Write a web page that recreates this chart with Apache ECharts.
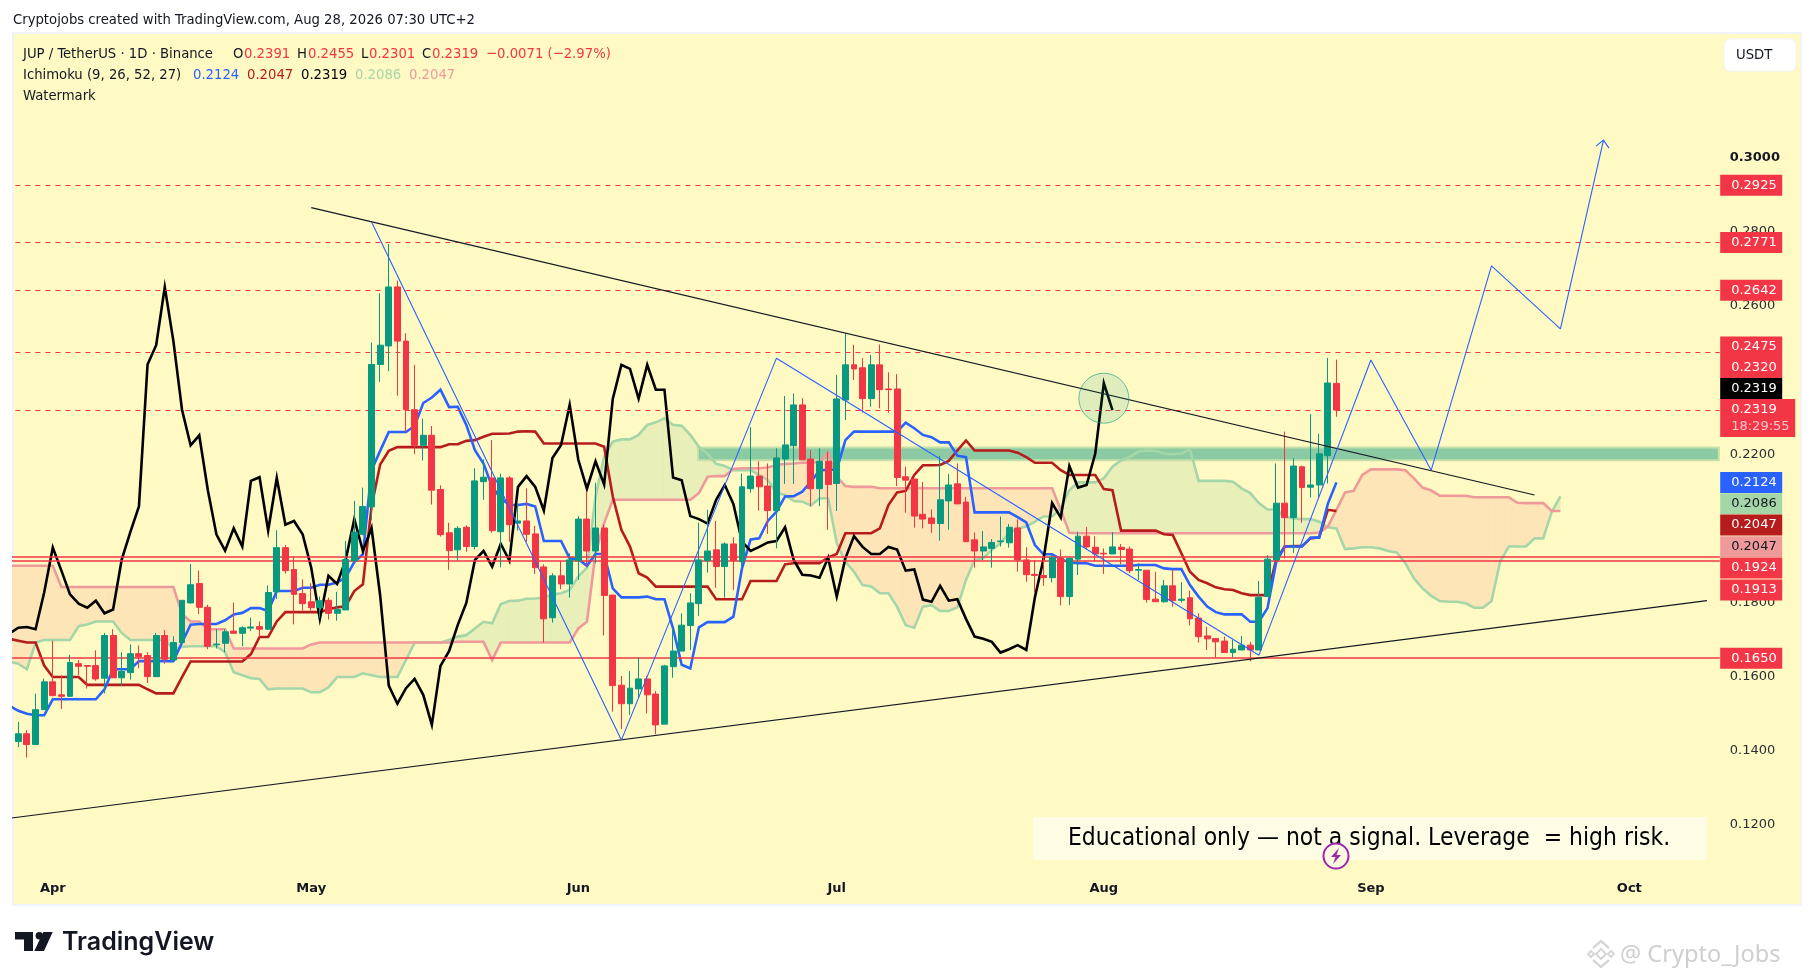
<!DOCTYPE html>
<html><head><meta charset="utf-8">
<style>html,body{margin:0;padding:0;background:#fff}#c{width:1814px;height:980px}</style>
<script src="https://cdn.jsdelivr.net/npm/echarts@6/dist/echarts.min.js"></script>
</head><body><div id="c"></div>
<script>
const monthTicks = {'04':'Apr','05':'May','06':'Jun','07':'Jul','08':'Aug','09':'Sep','10':'Oct'};
const yTickLabels = ['0.1200','0.1400','0.1600','0.1800','0.2200','0.2600','0.2800','0.3000'];
const opens = [.1425,.1446,.1417,.1511,.1586,.1551,.1547,.1635,.1630,.1630,
.1596,.1711,.1597,.1611,.1662,.1657,.1600,.1711,.1645,.1692,
.1799,.1851,.1787,.1686,.1690,.1723,.1717,.1731,.1735,.1728,
.1829,.1948,.1889,.1824,.1802,.1786,.1806,.1771,.1780,.1912,
.1984,.2058,.2442,.2492,.2651,.2505,.2320,.2224,.2251,.2105,
.1988,.1942,.2003,.1951,.2126,.2136,.1991,.2136,.2014,.2020,
.1985,.1896,.1759,.1872,.1850,.1913,.2025,.1939,.2001,.1820,
.1577,.1527,.1567,.1594,.1553,.1472,.1627,.1669,.1738,.1797,
.1913,.1942,.1897,.1958,.1910,.2107,.2141,.2114,.2048,.2187,
.2223,.2333,.2187,.2107,.2181,.2121,.2346,.2441,.2433,.2350,
.2441,.2376,.2376,.2139,.2133,.2038,.2028,.2013,.2074,.2120,
.2071,.1969,.1939,.1946,.1964,.1961,.2001,.1915,.1876,.1873,
.1867,.1920,.1816,.1917,.1979,.1949,.1933,.1931,.1949,.1944,
.1887,.1887,.1809,.1802,.1845,.1806,.1813,.1758,.1710,.1703,
.1696,.1665,.1672,.1685,.1672,.1816,.1915,.2068,.2029,.2166,
.2111,.2117,.2196,.2391];
const closes = [.1446,.1417,.1511,.1586,.1549,.1547,.1638,.1628,.1628,.1594,
.1711,.1597,.1614,.1662,.1654,.1600,.1711,.1647,.1692,.1806,
.1848,.1787,.1682,.1688,.1721,.1717,.1732,.1734,.1728,.1827,
.1948,.1886,.1822,.1797,.1786,.1805,.1771,.1781,.1916,.1990,
.2059,.2442,.2494,.2651,.2505,.2320,.2224,.2251,.2103,.1983,
.1940,.2000,.1951,.2128,.2138,.1994,.2136,.2010,.2020,.1984,
.1894,.1756,.1872,.1850,.1915,.2025,.1939,.2001,.1819,.1576,
.1527,.1569,.1594,.1551,.1470,.1629,.1669,.1739,.1799,.1915,
.1939,.1897,.1958,.1913,.2112,.2141,.2112,.2048,.2190,.2225,
.2333,.2185,.2107,.2181,.2118,.2349,.2441,.2430,.2350,.2441,
.2374,.2374,.2137,.2130,.2033,.2025,.2013,.2077,.2117,.2066,
.1964,.1939,.1950,.1962,.1966,.2003,.1915,.1875,.1873,.1867,
.1921,.1816,.1919,.1979,.1950,.1931,.1931,.1950,.1943,.1886,
.1889,.1808,.1802,.1845,.1805,.1809,.1756,.1708,.1702,.1694,
.1665,.1674,.1685,.1672,.1814,.1917,.2068,.2029,.2168,.2110,
.2117,.2201,.2392,.2319];
const lows = [.1410,.1382,.1417,.1511,.1547,.1513,.1547,.1604,.1568,.1589,
.1555,.1597,.1575,.1592,.1623,.1583,.1600,.1635,.1645,.1687,
.1797,.1769,.1674,.1676,.1666,.1717,.1682,.1723,.1707,.1726,
.1809,.1878,.1741,.1778,.1778,.1759,.1754,.1751,.1780,.1912,
.1981,.2023,.2395,.2424,.2358,.2260,.2200,.2183,.2064,.1978,
.1888,.1913,.1937,.1943,.2077,.1988,.1895,.1964,.1994,.1964,
.1877,.1692,.1746,.1836,.1813,.1861,.1897,.1906,.1711,.1506,
.1459,.1497,.1542,.1501,.1445,.1472,.1597,.1669,.1672,.1764,
.1881,.1840,.1813,.1834,.1892,.2096,.2048,.1985,.1946,.2120,
.2120,.2185,.2059,.2060,.1996,.2047,.2292,.2400,.2312,.2328,
.2324,.2312,.2114,.2042,.2002,.2000,.1988,.1967,.1996,.2066,
.1964,.1894,.1915,.1894,.1951,.1948,.1883,.1856,.1827,.1845,
.1854,.1792,.1793,.1874,.1942,.1910,.1877,.1931,.1903,.1879,
.1861,.1800,.1802,.1800,.1789,.1800,.1738,.1692,.1672,.1652,
.1665,.1652,.1672,.1641,.1672,.1816,.1915,.1919,.1934,.2015,
.2083,.2081,.2121,.2301];
const highs = [.1478,.1456,.1554,.1595,.1697,.1604,.1659,.1645,.1631,.1671,
.1718,.1728,.1666,.1687,.1684,.1666,.1718,.1726,.1709,.1806,
.1904,.1886,.1794,.1728,.1728,.1800,.1736,.1759,.1749,.1846,
.1995,.1955,.1924,.1862,.1852,.1816,.1813,.1829,.1966,.2074,
.2110,.2501,.2634,.2767,.2668,.2526,.2441,.2296,.2276,.2116,
.2015,.2006,.2008,.2162,.2186,.2238,.2147,.2141,.2068,.2108,
.2007,.1903,.1879,.1912,.1933,.2033,.2098,.2123,.2010,.1820,
.1602,.1615,.1652,.1602,.1561,.1632,.1730,.1771,.1825,.2015,
.2050,.2020,.1962,.1976,.2148,.2273,.2181,.2175,.2216,.2357,
.2364,.2351,.2211,.2216,.2207,.2414,.2526,.2495,.2459,.2468,
.2496,.2421,.2416,.2166,.2133,.2125,.2051,.2195,.2147,.2175,
.2085,.1989,.1993,.1971,.2032,.2012,.2024,.1949,.1915,.1924,
.1928,.1943,.1922,.1991,.2004,.1979,.1946,.1990,.1958,.1951,
.1906,.1887,.1883,.1861,.1888,.1855,.1832,.1771,.1735,.1703,
.1708,.1699,.1710,.1694,.1858,.1928,.2175,.2261,.2189,.2169,
.2308,.2255,.2460,.2455];
const conversionLine = [.1521,.1508,.1500,.1496,.1496,.1539,.1539,.1539,.1539,.1539,.1539,.1566,.1620,.1620,.1620,
.1642,.1642,.1642,.1642,.1642,.1692,.1740,.1742,.1742,.1742,.1752,.1768,.1772,.1785,.1785,.1777,
.1831,.1831,.1831,.1840,.1840,.1848,.1848,.1854,.1868,.1909,.1930,.2157,.2209,.2260,.2260,.2260,.2276,.2338,.2353,.2374,.2327,
.2328,.2279,.2211,.2175,.2112,.2081,.2063,.2063,.2066,.2059,.1966,.1966,.1966,.1919,.1917,.1899,.1931,.1931,.1838,
.1814,.1814,.1814,.1816,.1809,.1809,.1730,.1632,.1622,.1733,.1747,.1747,.1747,.1762,.1892,.1970,.1973,.2020,.2045,.2086,.2087,.2099,.2126,.2156,.2158,.2158,.2238,
.2261,.2261,.2261,.2261,.2261,.2261,.2285,.2270,.2252,.2246,.2232,.2232,.2196,.2192,.2043,.2043,.2043,.2043,.2043,.2030,.2016,.1955,.1930,.1930,.1917,.1908,.1906,.1906,
.1899,.1899,.1899,.1899,.1899,.1901,.1901,.1901,.1892,.1890,.1890,.1847,.1816,.1789,.1774,.1768,.1768,.1768,.1748,.1748,.1785,.1908,.1951,.1951,.1951,.1975,.1975,.2066,.2124];
const baseLine = [.1702,.1697,.1692,.1692,.1630,.1599,.1599,.1599,.1599,.1578,.1578,.1578,.1578,.1578,.1578,.1578,.1566,.1555,.1555,.1555,.1599,
.1641,.1641,.1641,.1641,.1641,.1641,.1641,.1661,.1707,.1707,.1749,.1774,.1774,.1774,.1774,.1774,.1782,.1787,.1790,.1831,.1849,.2059,.2172,.2209,
.2219,.2219,.2219,.2219,.2219,.2219,.2227,.2227,.2236,.2238,.2247,.2255,.2255,.2256,.2261,.2262,.2261,
.2229,.2229,.2229,.2229,.2229,.2229,.2229,.2220,.2086,.1996,.1951,.1879,.1867,.1843,.1843,.1843,.1843,.1843,.1843,.1843,
.1809,.1809,.1809,.1809,.1858,.1858,.1858,.1858,.1903,.1906,.1906,.1906,.1906,.1922,.1931,.1987,.1987,.1987,.1987,.2000,.2063,.2097,.2101,.2144,.2170,.2170,.2171,.2182,.2210,.2237,
.2210,.2210,.2210,.2210,.2210,.2204,.2192,.2177,.2177,.2177,.2157,.2144,.2144,.2144,.2144,.2106,.2103,.1994,.1994,.1994,.1994,.1994,.1984,.1982,.1933,.1883,.1861,.1852,.1841,.1836,.1834,.1825,
.1820,.1820,.1820,.1915,.1951,.1952,.1952,.1973,.1976,.2050,.2047];
const laggingLine = [.1717,.1732,.1734,.1728,.1827,
.1948,.1886,.1822,.1797,.1786,.1805,.1771,.1781,.1916,.1990,
.2059,.2442,.2494,.2651,.2505,.2320,.2224,.2251,.2103,.1983,
.1940,.2000,.1951,.2128,.2138,.1994,.2136,.2010,.2020,.1984,
.1894,.1756,.1872,.1850,.1915,.2025,.1939,.2001,.1819,.1576,
.1527,.1569,.1594,.1551,.1470,.1629,.1669,.1739,.1799,.1915,
.1939,.1897,.1958,.1913,.2112,.2141,.2112,.2048,.2190,.2225,
.2333,.2185,.2107,.2181,.2118,.2349,.2441,.2430,.2350,.2441,
.2374,.2374,.2137,.2130,.2033,.2025,.2013,.2077,.2117,.2066,
.1964,.1939,.1950,.1962,.1966,.2003,.1915,.1875,.1873,.1867,
.1921,.1816,.1919,.1979,.1950,.1931,.1931,.1950,.1943,.1886,
.1889,.1808,.1802,.1845,.1805,.1809,.1756,.1708,.1702,.1694,
.1665,.1674,.1685,.1672,.1814,.1917,.2068,.2029,.2168,.2110,
.2117,.2201,.2392,.2319];
const leadA = [.1640,.1635,.1620,.1692,.1699,.1699,.1699,.1699,.1736,.1741,.1749,.1749,.1749,.1718,.1699,.1699,.1699,.1699,.1699,.1674,.1680,
.1682,.1682,.1682,.1682,.1666,.1612,.1604,.1596,.1594,.1566,.1568,.1568,.1568,.1568,.1558,.1558,.1571,.1599,.1599,.1599,.1609,.1604,.1599,.1599,.1599,.1645,.1692,.1692,.1692,.1692,.1699,
.1708,.1712,.1730,.1748,.1744,.1796,.1804,.1805,.1810,.1811,.1813,.1822,.1825,.1834,.1870,.1894,.2086,.2193,.2234,.2240,.2240,.2252,.2279,.2286,.2297,.2279,.2277,.2252,.2220,.2201,.2174,.2168,
.2157,.2157,.2157,.2144,.2130,.2095,.2090,.2074,.2072,.2062,.2081,.2081,.1960,.1910,
.1883,.1847,.1843,.1825,.1825,.1789,.1739,.1732,.1789,.1793,.1777,.1777,.1787,.1861,.1915,.1919,.1942,.1960,.1987,.2000,.2005,.2018,.2032,.2032,.2054,.2103,.2124,.2124,.2124,.2135,.2166,.2183,.2192,.2207,.2210,.2209,.2202,.2200,.2202,.2213,
.2128,.2128,.2128,.2128,.2126,.2108,.2095,.2068,.2051,.2051,.2032,.2027,.2025,.2025,.2018,.2003,.2000,.1944,.1946,.1949,.1949,.1946,.1939,.1935,.1906,.1865,.1838,.1818,.1804,.1802,.1802,.1798,.1786,.1786,.1804,.1910,.1951,.1951,.1951,.1973,.1973,.2045,.2086];
const leadB = [.1899,.1899,.1899,.1899,.1899,.1899,.1842,.1842,.1842,.1842,.1842,.1842,.1842,.1842,.1842,.1842,.1842,.1842,.1842,.1842,.1769,.1749,.1749,.1728,.1728,.1728,
.1676,.1676,.1676,.1676,.1676,.1676,.1676,.1676,.1676,.1687,.1692,.1692,.1692,.1692,.1692,.1692,.1692,.1692,.1692,.1692,.1692,.1692,.1692,.1692,.1692,.1692,
.1694,.1694,.1694,.1694,.1645,.1692,.1692,.1692,.1692,.1692,.1692,.1692,.1692,.1692,.1730,.1748,.1933,.2014,
.2077,.2077,.2077,.2077,.2077,.2077,.2077,.2077,.2077,.2077,.2095,.2139,.2141,.2141,.2160,.2162,.2162,.2162,.2164,.2171,.2174,.2175,.2177,.2178,.2178,.2204,.2139,.2114,.2112,.2112,.2112,
.2108,.2108,.2108,.2108,.2108,.2108,.2108,.2108,.2108,.2108,.2108,.2108,.2108,.2108,.2108,.2108,.2108,.2108,.2108,.2108,.2108,.2050,.1988,
.1987,.1987,.1987,.1987,.1987,.1987,.1987,.1987,.1987,.1987,.1987,.1987,.1987,.1987,.1987,.1987,.1987,.1987,.1987,.1987,.1987,.1987,.1987,.1987,.1987,.1987,.1987,.1987,
.1989,.2005,.2050,.2097,.2101,.2144,.2159,.2159,.2159,.2159,.2157,.2135,.2110,.2102,.2088,.2088,.2088,.2088,.2084,.2084,.2084,.2084,.2084,.2069,.2068,.2068,.2068,.2047,.2047];
const zigzagIndex = [42,71,89,145,158,165,172,180,185];
const zigzagPrice = [.2826,.1429,.2459,.1658,.2454,.2157,.2708,.2538,.3047];
const downtrendIndex = [35,177];
const downtrendPrice = [.2865,.2090];
const uptrendIndex = [0,197];
const uptrendPrice = [.1218,.1805];
const dashedLevels = [.2925,.2771,.2642,.2475,.2319];
const solidLevels = [.1924,.1913,.1650];
const zoneRange = [80,.2218,.2184];
const circleAnchor = [127,.2351];
const tagLabels = ['0.2925','0.2771','0.2642','0.2475','0.2320','0.2124','0.2086','0.2047','0.2047','0.1924','0.1913','0.1650','0.2319','0.2319'];
const tagPrices = [.2925,.2771,.2642,.2475,.2320,.2124,.2086,.2047,.2047,.1924,.1913,.1650,.2319,.2319];

const UP='#089981', DOWN='#f23645';
const tagStyle = [
 {bg:DOWN,fg:'#fff',dy:0},{bg:DOWN,fg:'#fff',dy:0},{bg:DOWN,fg:'#fff',dy:0},{bg:DOWN,fg:'#fff',dy:-5.3},{bg:DOWN,fg:'#fff',dy:-42.2},
 {bg:'#2962ff',fg:'#fff',dy:0},{bg:'#a5d6a7',fg:'#131722',dy:7.3},{bg:'#b71c1c',fg:'#fff',dy:14},{bg:'#ef9a9a',fg:'#131722',dy:35.8},
 {bg:DOWN,fg:'#fff',dy:11.5},{bg:DOWN,fg:'#fff',dy:29.4},{bg:DOWN,fg:'#fff',dy:0},
 {bg:'#000',fg:'#fff',dy:-21.5},{bg:DOWN,fg:'#fff',dy:8,timer:'18:29:55'}];
const FONT='"DejaVu Sans"';
const COND='"DejaVu Sans Condensed","DejaVu Sans"';

const categories=[]; { const t0=Date.UTC(2026,2,27); for(let i=0;i<199;i++){categories.push(new Date(t0+i*864e5).toISOString().slice(0,10));} }
const pairs=(xs,ys)=>xs.map((x,i)=>[x,ys[i]]);
const candleData=[['-','-','-','-']].concat(opens.map((o,i)=>[o,closes[i],lows[i],highs[i]]));
const cloudData=[]; for(let i=0;i<leadA.length-1;i++) cloudData.push([i,leadA[i],leadB[i],leadA[i+1],leadB[i+1]]);

function ichi(name,data,color,width,z){return {name,type:'line',data,showSymbol:false,symbol:'none',z,silent:true,animation:false,lineStyle:{color,width,join:'miter'}};}
const CLOUD_G='#e9efb8', CLOUD_O='#fde5b7';
const option={
 animation:false,backgroundColor:'#ffffff',
 grid:{left:5.4,width:1714.4,top:83.4,height:815.76,containLabel:false},
 xAxis:{type:'category',data:categories,boundaryGap:true,axisLine:{show:false},axisTick:{show:false},splitLine:{show:false},
  axisLabel:{inside:true,margin:4,interval:(i,v)=>v.slice(8)==='01',formatter:v=>monthTicks[v.slice(5,7)]||'',fontFamily:FONT,fontSize:13,fontWeight:'bold',color:'#131722',hideOverlap:false}},
 yAxis:{type:'value',position:'right',min:.10,max:.32,interval:.02,scale:false,axisLine:{show:false},axisTick:{show:false},splitLine:{show:false},
  axisLabel:{margin:10,fontFamily:FONT,fontSize:13,color:'#2a2e39',
   formatter:v=>{const s=v.toFixed(4);if(!yTickLabels.includes(s))return '';return s==='0.3000'?'{b|'+s+'}':s;},
   rich:{b:{fontFamily:FONT,fontSize:13,fontWeight:'bold',color:'#131722'}}}},
 series:[
  {type:'custom',name:'cloud',z:1,silent:true,animation:false,data:cloudData,encode:{x:0,y:1},renderItem:(p,api)=>{
    const i=api.value(0),a=api.value(1),b=api.value(2),a2=api.value(3),b2=api.value(4);
    const P=(x,y)=>api.coord([x,y]);
    const A=P(i,a),B=P(i,b),A2=P(i+1,a2),B2=P(i+1,b2);
    const col=(d)=>d>=0?CLOUD_G:CLOUD_O;
    const poly=(pts,c)=>({type:'polygon',shape:{points:pts},style:{fill:c,stroke:c,lineWidth:.6},silent:true});
    const d1=a-b,d2=a2-b2;
    if(d1*d2>=0) return poly([A,A2,B2,B],col(d1+d2));
    const t=d1/(d1-d2);const X=[A[0]+(A2[0]-A[0])*t,A[1]+(A2[1]-A[1])*t];
    return {type:'group',children:[poly([A,X,B],col(d1)),poly([X,A2,B2],col(d2))]};
  }},
  {type:'custom',name:'zone',z:2,silent:true,animation:false,data:[zoneRange],encode:{x:0,y:[1,2]},renderItem:(p,api)=>{
    const a=api.coord([api.value(0),api.value(1)]),b=api.coord([api.value(0),api.value(2)]);
    const right=p.coordSys.x+p.coordSys.width-1;
    return {type:'rect',shape:{x:a[0]-1,y:a[1],width:right-a[0]+1,height:b[1]-a[1]},style:{fill:'#8bcaa3',stroke:'#c5e0a8',lineWidth:2}};
  }},
  ichi('Lead A',leadA,'#a5d6a7',2.6,3),
  ichi('Lead B',leadB,'#ef9a9a',2.6,3),
  ichi('Base',baseLine,'#b71c1c',2.6,3),
  ichi('Conversion',conversionLine,'#2962ff',2.6,3),
  ichi('Lagging',laggingLine,'#000000',2.6,3),
  {type:'candlestick',name:'JUP/USDT',z:5,silent:true,animation:false,data:candleData,barWidth:6.4,
   itemStyle:{color:UP,color0:DOWN,borderColor:UP,borderColor0:DOWN,borderWidth:1}},
  {type:'line',name:'Downtrend',z:6,silent:true,animation:false,symbol:'none',data:pairs(downtrendIndex,downtrendPrice),lineStyle:{color:'#131722',width:1.1},
   markLine:{silent:true,symbol:'none',animation:false,precision:4,label:{show:false},
    data:dashedLevels.map(v=>({yAxis:v,lineStyle:{type:[5,5],color:DOWN,width:1}})).concat(solidLevels.map(v=>({yAxis:v,lineStyle:{type:'solid',color:DOWN,width:1.6}})))}},
  {type:'line',name:'Uptrend',z:6,silent:true,animation:false,symbol:'none',data:pairs(uptrendIndex,uptrendPrice),lineStyle:{color:'#131722',width:1.1}},
  {type:'line',name:'Zigzag',z:6,silent:true,animation:false,symbol:'none',data:pairs(zigzagIndex,zigzagPrice),lineStyle:{color:'#2962ff',width:1.1}},
  {type:'custom',name:'arrowhead',z:6,silent:true,animation:false,data:[[zigzagIndex[zigzagIndex.length-1],zigzagPrice[zigzagPrice.length-1]]],encode:{x:0,y:1},renderItem:(p,api)=>{
    const c=api.coord([api.value(0),api.value(1)]);
    return {type:'polyline',shape:{points:[[c[0]-7.5,c[1]+6],c,[c[0]+5.5,c[1]+8]]},style:{stroke:'#2962ff',lineWidth:1.1,fill:'none'}};
  }},
  {type:'custom',name:'circle',z:7,silent:true,animation:false,data:[circleAnchor],encode:{x:0,y:1},renderItem:(p,api)=>{
    const c=api.coord([api.value(0),api.value(1)]);
    return {type:'circle',shape:{cx:c[0],cy:c[1],r:25},style:{fill:'rgba(8,153,129,.13)',stroke:'rgba(8,153,129,.6)',lineWidth:1}};
  }},
  {type:'custom',name:'tags',z:9,silent:true,animation:false,clip:false,data:tagPrices.map((v,i)=>[198,v,i]),encode:{x:0,y:1},renderItem:(p,api)=>{
    const c=api.coord([api.value(0),api.value(1)]);const i=api.value(2);const s=tagStyle[i];
    const left=p.coordSys.x+p.coordSys.width+0.4;const cy=c[1]+s.dy;
    if(s.timer){return {type:'group',children:[
      {type:'rect',shape:{x:left,y:cy-19,width:75,height:38},style:{fill:s.bg}},
      {type:'text',style:{x:left+11,y:cy-8.5,text:tagLabels[i],fill:s.fg,font:'13px '+FONT,textVerticalAlign:'middle'}},
      {type:'text',style:{x:left+11,y:cy+8.5,text:s.timer,fill:'rgba(255,255,255,.72)',font:'13px '+FONT,textVerticalAlign:'middle'}}]};}
    return {type:'group',children:[
      {type:'rect',shape:{x:left,y:cy-10.5,width:62,height:21},style:{fill:s.bg}},
      {type:'text',style:{x:left+11,y:cy,text:tagLabels[i],fill:s.fg,font:'13px '+FONT,textVerticalAlign:'middle'}}]};
  }}
 ],
 graphic:{elements:(function(){
  const els=[];
  const F='14.7px '+COND;
  const txt=(x,y,t,fill,font,extra)=>els.push({type:'text',x,y,z:50,silent:true,style:Object.assign({text:t,fill,font:font||F,textVerticalAlign:'middle'},extra||{})});
  // pane
  els.unshift({type:'rect',z:-10,silent:true,shape:{x:13,y:33,width:1788,height:872},style:{fill:'#fff9c4',stroke:'#f0f3fa',lineWidth:2}});
  // mask left of pane
  els.push({type:'rect',z:40,silent:true,shape:{x:0,y:80,width:12,height:830},style:{fill:'#ffffff'}});
  // header
  txt(13,20.5,'Cryptojobs created with TradingView.com, Aug 28, 2026 07:30 UTC+2','#131722');
  txt(23,54.5,'JUP / TetherUS · 1D · Binance','#131722');
  [[233,'O'],[297,'H'],[361,'L'],[422,'C']].forEach(a=>txt(a[0],54.5,a[1],'#131722'));
  [[244,'0.2391'],[308,'0.2455'],[369,'0.2301'],[432,'0.2319'],[486,'−0.0071 (−2.97%)']].forEach(a=>txt(a[0],54.5,a[1],DOWN));
  txt(23,75.5,'Ichimoku (9, 26, 52, 27)','#131722');
  [[193,'0.2124','#2962ff'],[247,'0.2047','#b71c1c'],[301,'0.2319','#000000'],[355,'0.2086','#a5d6a7'],[409,'0.2047','#ef9a9a']].forEach(a=>txt(a[0],75.5,a[1],a[2]));
  txt(23,96.5,'Watermark','#131722');
  // USDT button
  els.push({type:'rect',z:50,silent:true,shape:{x:1724,y:39,width:72,height:32,r:6},style:{fill:'#ffffff',stroke:'#f0f3fa',lineWidth:1}});
  txt(1736,55,'USDT','#131722');
  // watermark note
  els.push({type:'rect',z:45,silent:true,shape:{x:1033,y:817,width:674,height:43},style:{fill:'#fffce6'}});
  txt(1369,838.5,'Educational only — not a signal. Leverage  = high risk.','#000000','24.4px '+COND,{textAlign:'center'});
  els.push({type:'circle',z:60,silent:true,shape:{cx:1336,cy:856,r:12.5},style:{fill:'#fff9e0',stroke:'#9c27b0',lineWidth:2}});
  els.push({type:'polygon',z:61,silent:true,shape:{points:[[1339,848],[1331,857],[1335.5,857],[1333,864],[1341,855],[1336.5,855]]},style:{fill:'#9c27b0'}});
  // TradingView logo
  const k='#131722';
  els.push({type:'polygon',z:50,silent:true,shape:{points:[[15,932],[33,932],[33,951],[24,951],[24,939.5],[15,939.5]]},style:{fill:k}});
  els.push({type:'circle',z:50,silent:true,shape:{cx:39.3,cy:935.7,r:3.7},style:{fill:k}});
  els.push({type:'polygon',z:50,silent:true,shape:{points:[[43.3,932],[52.7,932],[44,951],[34.3,951]]},style:{fill:k}});
  txt(62,942,'TradingView',k,'600 25px Inter');
  // bottom right credit
  const g='#d6d6d6';
  const dm=(cx,cy,r)=>els.push({type:'polygon',z:50,silent:true,shape:{points:[[cx,cy-r],[cx+r,cy],[cx,cy+r],[cx-r,cy]]},style:{fill:'none',stroke:g,lineWidth:2}});
  dm(1601,954,5);dm(1591,954,3);dm(1611,954,3);
  els.push({type:'polyline',z:50,silent:true,shape:{points:[[1593,948],[1601,941],[1609,948]]},style:{stroke:g,lineWidth:2.4,fill:'none'}});
  els.push({type:'polyline',z:50,silent:true,shape:{points:[[1593,960],[1601,967],[1609,960]]},style:{stroke:g,lineWidth:2.4,fill:'none'}});
  txt(1620,955,'@ Crypto_Jobs','#cfcfcf','23.6px "Noto Sans"');
  return els;
 })()}
};
const chart=echarts.init(document.getElementById('c'),null,{renderer:'canvas',width:1814,height:980});
chart.setOption(option);
</script></body></html>
